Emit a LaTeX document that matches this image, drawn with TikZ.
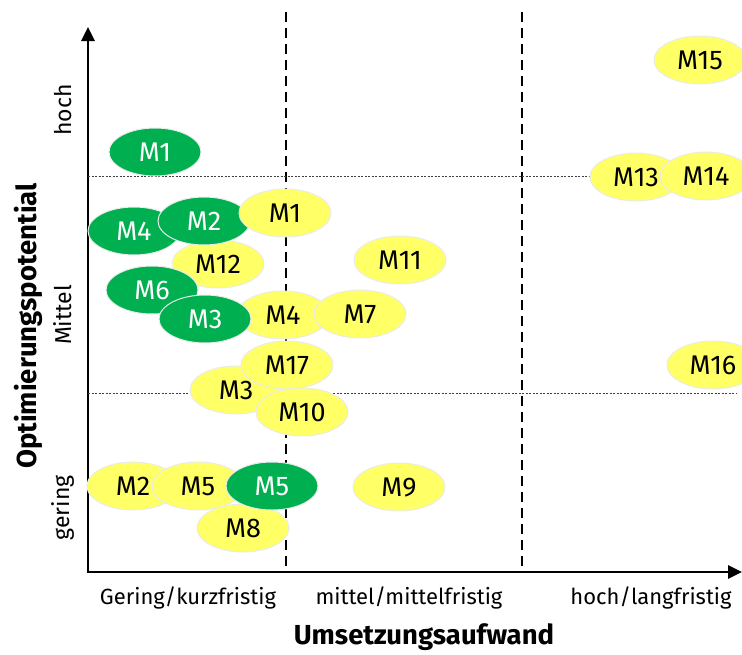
\documentclass[tikz,border=0pt]{standalone}
\usepackage{fontspec}
\setmainfont{Fira Sans}
\usetikzlibrary{arrows.meta,shapes.geometric}
\definecolor{mgreen}{HTML}{00B050}
\definecolor{myellow}{HTML}{FFFF66}
\begin{document}
\begin{tikzpicture}[x=1pt,y=-1pt,
  mbase/.style={ellipse, minimum width=92pt, minimum height=48pt, inner sep=0pt,
    draw=white!92!black, line width=1pt, font=\fontsize{27}{27}\selectfont},
  gm/.style={mbase, fill=mgreen, text=white},
  ym/.style={mbase, fill=myellow, text=black},
  axisline/.style={line width=2.6pt, {Triangle[length=14pt,width=13pt]}-{Triangle[length=14pt,width=13pt]}},
  sepline/.style={line width=2.2pt, dash pattern=on 10pt off 6pt},
  bandline/.style={line width=0.8pt, dash pattern=on 2pt off 1.5pt, black!75},
  ticklabel/.style={font=\fontsize{22}{22}\selectfont},
  sidelabel/.style={font=\fontsize{23}{23}\selectfont, rotate=90},
  axistitle/.style={font=\fontsize{27.5}{27.5}\selectfont\bfseries}]
\useasboundingbox (0,0) rectangle (742,654);

% axes frame
\coordinate (ytop) at (88,27);
\coordinate (O) at (88,572);
\coordinate (xend) at (742,572);
\draw[axisline] (ytop) -- (O) -- (xend);

% column separators
\coordinate (s1t) at (286,12); \coordinate (s1b) at (286,572);
\coordinate (s2t) at (522,12); \coordinate (s2b) at (522,572);
\draw[sepline] (s1t) -- (s1b);
\draw[sepline] (s2t) -- (s2b);

% row separators
\coordinate (r1a) at (88,176); \coordinate (r1b) at (592,176);
\coordinate (r2a) at (88,393); \coordinate (r2b) at (736,393);
\draw[bandline] (r1a) -- (r1b);
\draw[bandline] (r2a) -- (r2b);

% axis labels
\node[sidelabel] (lhoch) at (63,110) {hoch};
\node[sidelabel] (lmittel) at (63,315) {Mittel};
\node[sidelabel] (lgering) at (63,508) {gering};
\node[axistitle, rotate=90] (ytitle) at (28,326) {Optimierungspotential};
\node[ticklabel] (lkurz) at (188,598) {Gering/kurzfristig};
\node[ticklabel] (lmittelfr) at (409,598) {mittel/mittelfristig};
\node[ticklabel] (llang) at (651,598) {hoch/langfristig};
\node[axistitle] (xtitle) at (424,637) {Umsetzungsaufwand};

% measures, middle band
\node[ym] (y4) at (283,315) {M4};
\node[ym] (y7) at (360,314) {M7};
\node[ym] (y12) at (218,264) {M12};
\node[ym] (y11) at (400,260) {M11};
\node[gm] (g4) at (134,231) {M4};
\node[gm] (g2) at (204,221) {M2};
\node[ym] (y1) at (285,213) {M1};
\node[gm] (g6) at (152,290) {M6};
\node[gm] (g3) at (205,319) {M3};
\node[gm] (g1) at (155,152) {M1};
\node[ym] (y3) at (236,390) {M3};
\node[ym] (y17) at (287,365) {M17};
\node[ym] (y10) at (302,412) {M10};

% measures, lower band
\node[ym] (y8) at (243,528) {M8};
\node[ym] (y2) at (133,486) {M2};
\node[ym] (y5) at (198,486) {M5};
\node[gm] (g5) at (272,486) {M5};
\node[ym] (y9) at (399,487) {M9};

% measures, right column
\node[ym] (y13) at (636,177) {M13};
\node[ym] (y14) at (706,176) {M14};
\node[ym] (y15) at (700,60) {M15};
\node[ym] (y16) at (713,365) {M16};
\end{tikzpicture}
\end{document}
